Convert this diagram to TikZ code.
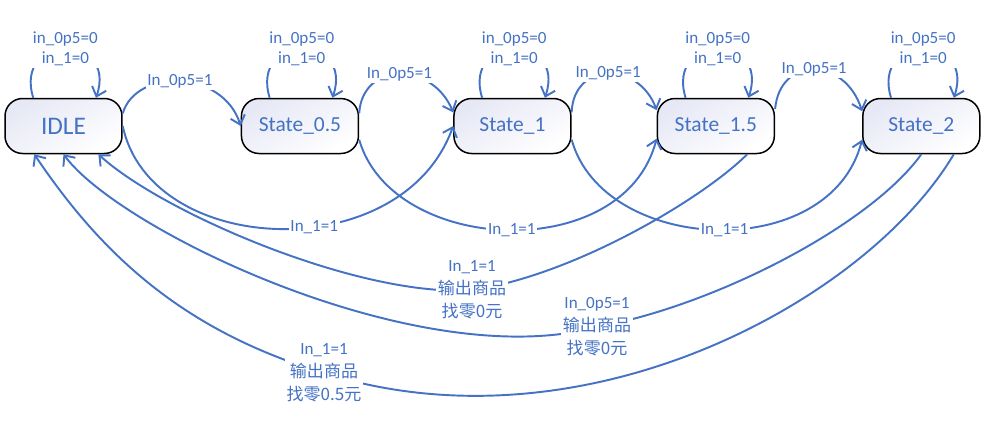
\documentclass[tikz,border=0pt]{standalone}
\usepackage{fontspec}
\setmainfont{Carlito}
\newfontfamily\cjk{Noto Sans CJK SC}
\usepackage{xcolor}
\definecolor{lineBlue}{HTML}{4472C4}
\definecolor{stateBg}{HTML}{E6E8F5}
\usepackage{tikz}
\usetikzlibrary{positioning,arrows.meta}
\tikzset{%
  stateBox/.style={%
    rectangle,
    rounded corners=10pt,
    draw=black,
    line width=0.85pt,
    top color=stateBg,
    middle color=white,
    bottom color=white,
    shading angle=30,
    minimum width=2.34cm,
    minimum height=1.1cm,
    text=lineBlue,
    font=\fontsize{12.2}{14}\selectfont
  },
  arrowLine/.style={%
    -{Straight Barb[length=4.8pt,width=8.5pt]},
    line width=1.1pt,
    color=lineBlue
  },
  edgeLabel/.style={%
    fill=white,
    inner sep=1pt,
    text=lineBlue,
    align=center,
    font=\fontsize{9.7}{13}\selectfont
  },
  loopLabel/.style={%
    edgeLabel,
    font=\fontsize{9.7}{11.4}\selectfont
  }
}

\begin{document}
\begin{tikzpicture}[x=0.02cm, y=-0.02cm]
            \useasboundingbox (0,0) rectangle (996,424);
            \node[stateBox, font=\fontsize{14.4}{16}\selectfont] (idle) at (63.5,126) {IDLE};
            \node[stateBox, right=2.36cm of idle] (half) {State\_0.5};
            \node[stateBox, right=1.88cm of half] (one) {State\_1};
            \node[stateBox, right=1.7cm of one] (oneHalf) {State\_1.5};
            \node[stateBox, right=1.74cm of oneHalf] (two) {State\_2};

            \foreach \s in {idle,half,one,oneHalf,two}
                \draw[arrowLine] (\s.137) .. controls +(-20,-65) and +(22,-65) .. (\s.41)
                    node[midway, loopLabel] {in\_0p5=0\\in\_1=0};

            \draw[arrowLine] (idle.12) .. controls +(13,-45) and +(-18,-57) .. (half.west)
                node[midway, edgeLabel] {In\_0p5=1};
            \draw[arrowLine] (half.12) .. controls +(3,-52) and +(-21,-51) .. (one.167)
                node[midway, edgeLabel] {In\_0p5=1};
            \draw[arrowLine] (one.13) .. controls +(2,-51) and +(-18,-49) .. (oneHalf.165)
                node[midway, edgeLabel] {In\_0p5=1};
            \draw[arrowLine] (oneHalf.16) .. controls +(5,-54) and +(-17,-54) .. (two.166)
                node[midway, edgeLabel] {In\_0p5=1};

            \draw[arrowLine] (idle.east) .. controls +(28,132) and +(-51,142) .. (one.west)
                node[pos=0.58, edgeLabel] {In\_1=1};
            \draw[arrowLine] (half.-13) .. controls +(33,115) and +(-33,127) .. (oneHalf.192)
                node[pos=0.51, edgeLabel] {In\_1=1};
            \draw[arrowLine] (one.-13) .. controls +(32,115) and +(-32,125) .. (two.193)
                node[pos=0.52, edgeLabel] {In\_1=1};

            \draw[arrowLine] (oneHalf.-42) .. controls +(-45,45) and +(100,-14) .. (472,290)
                node[edgeLabel] {In\_1=1\\{\cjk 输出商品}\\{\cjk 找零0元}}
                .. controls +(-112,8) and +(63,58) .. (idle.-39);
            \draw[arrowLine] (two.south) .. controls +(-50,70) and +(120,-22) .. (597,327)
                node[edgeLabel] {In\_0p5=1\\{\cjk 输出商品}\\{\cjk 找零0元}}
                .. controls +(-177,48) and +(56.5,76.5) .. (idle.south);
            \draw[arrowLine] (two.-41) .. controls +(-87,146.5) and +(260,82) .. (324,373)
                node[edgeLabel] {In\_1=1\\{\cjk 输出商品}\\{\cjk 找零0.5元}}
                .. controls +(-144,-43) and +(65,96.5) .. (idle.224);
        \end{tikzpicture}
\end{document}
